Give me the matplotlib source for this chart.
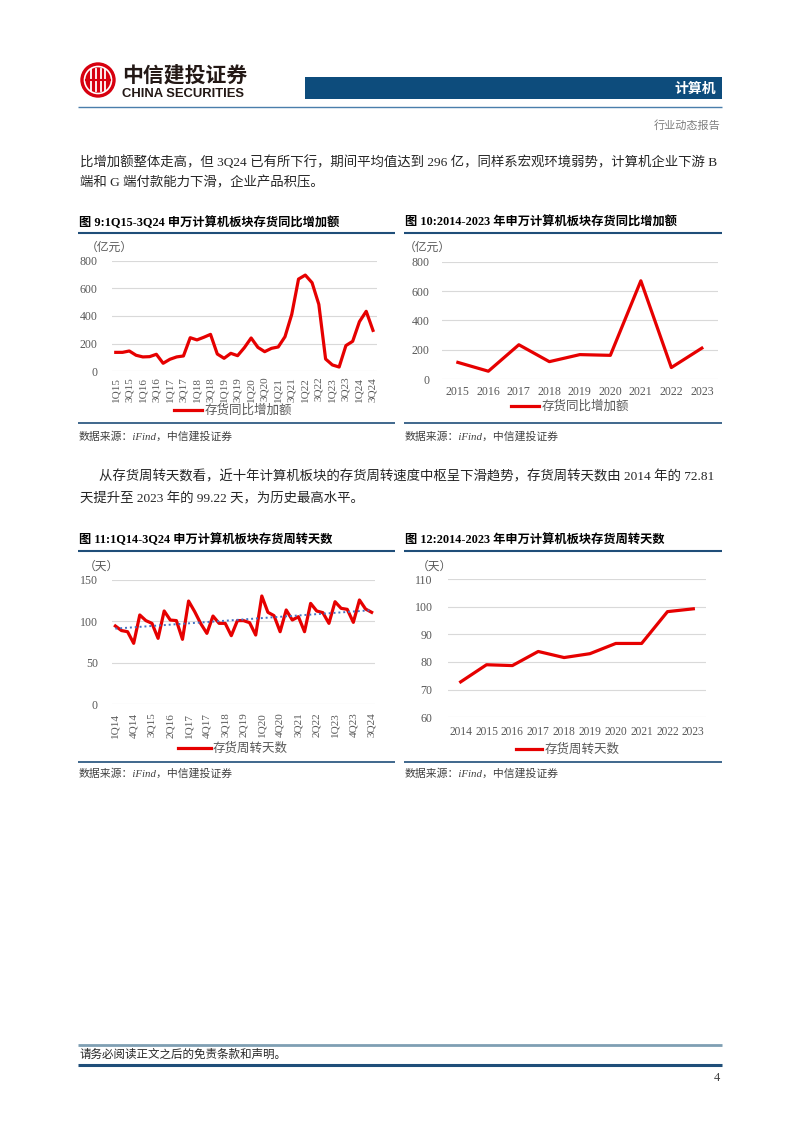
import numpy as np
import matplotlib
matplotlib.use('Agg')
import matplotlib.pyplot as plt
from matplotlib.patches import Circle, Rectangle

plt.rcParams['font.family'] = ['Liberation Serif', 'Noto Sans CJK SC']

# ---- data ----
ticks9 = ['1Q15', '3Q15', '1Q16', '3Q16', '1Q17', '3Q17', '1Q18', '3Q18', '1Q19', '3Q19',
          '1Q20', '3Q20', '1Q21', '3Q21', '1Q22', '3Q22', '1Q23', '3Q23', '1Q24', '3Q24']
inc_quarterly = [137, 137, 147, 116, 104, 106, 123, 58, 87, 104, 111, 243, 227, 246, 267,
                 125, 94, 130, 113, 171, 241, 173, 142, 166, 176, 250, 412, 667, 696, 641,
                 484, 89, 46, 31, 186, 217, 359, 434, 296]

years10 = ['2015', '2016', '2017', '2018', '2019', '2020', '2021', '2022', '2023']
inc_yearly = [115, 55, 235, 120, 168, 163, 670, 80, 212]

ticks11 = ['1Q14', '4Q14', '3Q15', '2Q16', '1Q17', '4Q17', '3Q18', '2Q19', '1Q20', '4Q20',
           '3Q21', '2Q22', '1Q23', '4Q23', '3Q24']
days_quarterly = [94.5, 89, 87.6, 73.6, 107.8, 101, 97.7, 79.6, 112.6, 101.7, 101, 78.4,
                  124.6, 111.8, 97.3, 85.6, 106.5, 97.7, 97.7, 82.8, 101, 101, 98.5, 83.6,
                  130.7, 111, 107, 87.6, 113.8, 101.7, 105.7, 87.6, 121.8, 112.6, 110.6, 97.7,
                  123.8, 115.8, 114.6, 98.9, 125.9, 115, 111]

years12 = ['2014', '2015', '2016', '2017', '2018', '2019', '2020', '2021', '2022', '2023']
days_yearly = [72.81, 79, 78.7, 83.8, 81.6, 83, 86.7, 86.7, 98.2, 99.22]

W, H = 802, 1133
RED = '#e60000'
NAVY = '#1f4e79'
GREY = '#595959'
SANS = ['Noto Sans CJK SC']

fig = plt.figure(figsize=(W / 100, H / 100), dpi=100)
bg = fig.add_axes([0, 0, 1, 1])
bg.set_xlim(0, W)
bg.set_ylim(H, 0)
bg.axis('off')


def ax_px(x0, y0, x1, y1):
    return fig.add_axes([x0 / W, 1 - y1 / H, (x1 - x0) / W, (y1 - y0) / H])


def hline(y, x0, x1, color, lw):
    bg.plot([x0, x1], [y, y], color=color, lw=lw, solid_capstyle='butt')


# ---- header ----
bg.add_patch(Circle((98, 80), 17, color='#d7000f'))
bg.add_patch(Circle((98, 80), 13.5, fill=False, ec='white', lw=1.2))
for dx in (-7, -2.5, 2.5, 7):
    bg.plot([98 + dx, 98 + dx], [69, 91], color='white', lw=1.3)
bg.plot([86, 110], [80, 80], color='#d7000f', lw=1.5)
bg.text(122, 75, '中信建投证券', family=SANS, fontweight='bold', fontsize=15,
        ha='left', va='center', color='#231815')
bg.text(122, 94, 'CHINA SECURITIES', family=['Liberation Sans'], fontweight='bold', fontsize=9.4,
        ha='left', va='center', color='#231815')
bg.add_patch(Rectangle((305, 77), 417, 22, color='#0d4c7c', lw=0))
bg.text(716, 88.5, '计算机', family=SANS, fontweight='bold', fontsize=10,
        ha='right', va='center', color='white')
hline(107, 78, 722, '#4a7eab', 1.0)
bg.text(720, 125, '行业动态报告', family=SANS, fontsize=8, ha='right', va='center', color='#7f7f7f')

# ---- body text ----
BODY = 9.65
bg.text(80, 162, '比增加额整体走高，但 3Q24 已有所下行，期间平均值达到 296 亿，同样系宏观环境弱势，计算机企业下游 B',
        fontsize=BODY, ha='left', va='center', color='#262626')
bg.text(80, 183, '端和 G 端付款能力下滑，企业产品积压。',
        fontsize=BODY, ha='left', va='center', color='#262626')
bg.text(99, 477, '从存货周转天数看，近十年计算机板块的存货周转速度中枢呈下滑趋势，存货周转天数由 2014 年的 72.81',
        fontsize=BODY, ha='left', va='center', color='#262626')
bg.text(80, 499, '天提升至 2023 年的 99.22 天，为历史最高水平。',
        fontsize=BODY, ha='left', va='center', color='#262626')

# ---- chart frames ----
frames = [
    (78, 395, 223, 233, 423, 436, '图 9:1Q15-3Q24 申万计算机板块存货同比增加额'),
    (404, 722, 223, 233, 423, 436, '图 10:2014-2023 年申万计算机板块存货同比增加额'),
    (78, 395, 540, 551, 762, 773, '图 11:1Q14-3Q24 申万计算机板块存货周转天数'),
    (404, 722, 540, 551, 762, 773, '图 12:2014-2023 年申万计算机板块存货周转天数'),
]
for x0, x1, ty, ly, by, sy, title in frames:
    bg.text(x0 + 1, ty, title, fontsize=8.8, fontweight='bold', ha='left', va='center', color='black')
    hline(ly, x0, x1, NAVY, 1.5)
    hline(by, x0, x1, NAVY, 1.2)
    bg.text(x0 + 1, sy, '数据来源：iFind，中信建投证券', fontsize=7.8, style='italic',
            ha='left', va='center', color='#404040')


def style_axis(ax, ylim, yticks, pad):
    ax.set_ylim(*ylim)
    ax.set_yticks(yticks)
    ax.set_yticklabels([str(v) for v in yticks])
    for s in ax.spines.values():
        s.set_visible(False)
    ax.grid(axis='y', color='#d9d9d9', lw=0.8)
    ax.set_axisbelow(True)
    ax.tick_params(length=0, labelcolor=GREY, labelsize=8.6)
    ax.tick_params(axis='y', pad=pad)
    ax.patch.set_alpha(0)


def add_legend(ax, label, cx, cy, hl):
    ax.legend([label], loc='center', bbox_to_anchor=(cx / W, 1 - cy / H),
              bbox_transform=fig.transFigure, frameon=False, handlelength=hl,
              handletextpad=0.2, prop={'size': 9}, labelcolor=GREY)


def unit_label(x, y, s):
    bg.text(x, y, s, family=SANS, fontsize=8.5, ha='left', va='center', color=GREY)


# chart 9
ax9 = ax_px(111.7, 260.7, 376.7, 371.3)
x9 = np.arange(len(inc_quarterly))
ax9.plot(x9, inc_quarterly, color=RED, lw=2.3, clip_on=False)
ax9.set_xlim(-0.6, len(inc_quarterly) - 0.45)
style_axis(ax9, (0, 800), [0, 200, 400, 600, 800], 10)
ax9.set_xticks(x9[::2])
ax9.set_xticklabels(ticks9, rotation=90, fontsize=8.0)
ax9.tick_params(axis='x', pad=4)
unit_label(86, 247, '（亿元）')
add_legend(ax9, '存货同比增加额', 233, 411, 2.2)

# chart 10
ax10 = ax_px(441.7, 261.7, 718, 379.3)
x10 = np.arange(len(inc_yearly))
ax10.plot(x10, inc_yearly, color=RED, lw=2.3, clip_on=False)
ax10.set_xlim(-0.53, len(inc_yearly) - 0.47)
style_axis(ax10, (0, 800), [0, 200, 400, 600, 800], 9)
ax10.set_xticks(x10)
ax10.set_xticklabels(years10, fontsize=8.6)
ax10.tick_params(axis='x', pad=5)
unit_label(404, 247, '（亿元）')
add_legend(ax10, '存货同比增加额', 570, 407, 2.2)

# chart 11
ax11 = ax_px(111.7, 580, 375, 704.3)
x11 = np.arange(len(days_quarterly))
ax11.plot(x11, days_quarterly, color=RED, lw=2.3, clip_on=False)
k, b = np.polyfit(x11, days_quarterly, 1)
ax11.plot(x11, k * x11 + b, color='#4472c4', lw=1.4, ls=(0, (1, 1.5)))
ax11.set_xlim(-0.6, len(days_quarterly) - 0.45)
style_axis(ax11, (0, 150), [0, 50, 100, 150], 10)
ax11.set_xticks(x11[::3])
ax11.set_xticklabels(ticks11, rotation=90, fontsize=8.0)
ax11.tick_params(axis='x', pad=6)
unit_label(84, 566, '（天）')
add_legend(ax11, '存货周转天数', 233, 749, 2.6)

# chart 12
ax12 = ax_px(448, 579, 706, 717.3)
x12 = np.arange(len(days_yearly))
ax12.plot(x12, days_yearly, color=RED, lw=2.3, clip_on=False)
ax12.set_xlim(-0.49, len(days_yearly) - 0.51)
style_axis(ax12, (60, 110), [60, 70, 80, 90, 100, 110], 11)
ax12.set_xticks(x12)
ax12.set_xticklabels(years12, fontsize=8.3)
ax12.tick_params(axis='x', pad=6)
unit_label(417, 566, '（天）')
add_legend(ax12, '存货周转天数', 568, 750, 2.1)

# ---- footer ----
hline(1045, 78, 722, '#7f9fb3', 2.0)
bg.text(79, 1055, '请务必阅读正文之后的免责条款和声明。', fontsize=8.3, ha='left', va='center', color='#262626')
hline(1065, 78, 722, NAVY, 2.2)
bg.text(720, 1078, '4', fontsize=9, ha='right', va='center', color='#404040')

fig.savefig('out.png', dpi=100)
